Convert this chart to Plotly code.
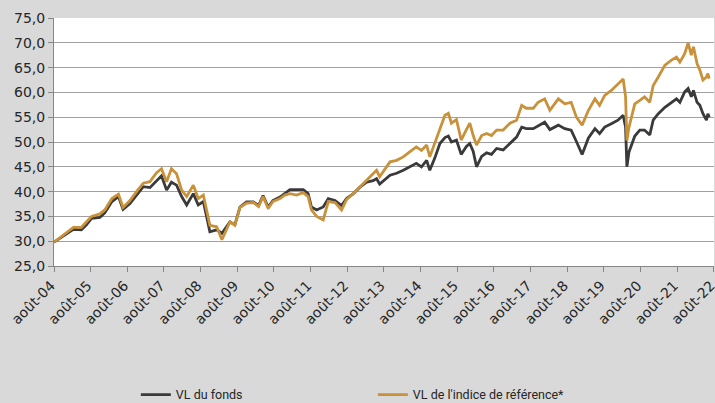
import plotly.graph_objects as go

dates = [
    "2004-08-01", "2004-11-01", "2005-02-10", "2005-05-01", "2005-06-20", "2005-08-10",
    "2005-11-01", "2005-12-20", "2006-03-01", "2006-05-05", "2006-06-20", "2006-08-28",
    "2006-11-01", "2007-01-08", "2007-03-15", "2007-05-20", "2007-07-08", "2007-08-28",
    "2007-10-15", "2007-12-05", "2008-01-25", "2008-03-15", "2008-05-20", "2008-07-08",
    "2008-08-28", "2008-11-01", "2009-01-08", "2009-03-01", "2009-05-20", "2009-07-08",
    "2009-08-28", "2009-11-01", "2010-01-08", "2010-03-01", "2010-04-15", "2010-06-05",
    "2010-07-22", "2010-10-01", "2010-11-18", "2011-01-08", "2011-03-15", "2011-05-20",
    "2011-07-08", "2011-08-10", "2011-10-01", "2011-12-05", "2012-01-25", "2012-04-01",
    "2012-06-05", "2012-07-25", "2012-10-01", "2012-12-05", "2013-02-10", "2013-04-15",
    "2013-05-20", "2013-06-20", "2013-10-01", "2013-12-05", "2014-02-10", "2014-04-15",
    "2014-06-20", "2014-08-10", "2014-10-01", "2014-11-01", "2014-12-20", "2015-02-10",
    "2015-04-01", "2015-05-05", "2015-06-05", "2015-07-25", "2015-09-10", "2015-11-01",
    "2015-12-05", "2016-01-08", "2016-02-10", "2016-04-01", "2016-05-20", "2016-07-08",
    "2016-08-28", "2016-11-01", "2017-01-08", "2017-03-15", "2017-05-05", "2017-06-20",
    "2017-08-28", "2017-10-15", "2017-12-20", "2018-02-10", "2018-05-05", "2018-07-08",
    "2018-09-10", "2018-11-01", "2018-12-28", "2019-03-01", "2019-05-05", "2019-06-20",
    "2019-08-10", "2019-10-15", "2019-12-20", "2020-02-10", "2020-03-05", "2020-03-18",
    "2020-04-08", "2020-06-05", "2020-07-25", "2020-09-10", "2020-11-01", "2020-12-05",
    "2021-01-25", "2021-04-01", "2021-06-05", "2021-07-25", "2021-08-28", "2021-10-15",
    "2021-11-18", "2021-12-20", "2022-01-10", "2022-02-15", "2022-03-15", "2022-04-15",
    "2022-05-20", "2022-06-03", "2022-06-17",
]

vl_fonds = [
    29.8, 31.0, 32.4, 32.3, 33.3, 34.6,
    34.8, 35.7, 38.0, 39.0, 36.4, 37.6,
    39.3, 41.0, 40.8, 42.3, 43.2, 40.3,
    41.9, 41.3, 39.0, 37.3, 39.6, 37.3,
    38.0, 31.9, 32.3, 31.6, 33.9, 33.3,
    36.9, 37.9, 37.9, 37.2, 39.2, 36.9,
    38.2, 38.9, 39.6, 40.4, 40.4, 40.4,
    39.6, 36.9, 36.3, 36.9, 38.6, 38.2,
    37.2, 38.6, 39.6, 40.9, 41.9, 42.2,
    42.6, 41.5, 43.3, 43.7, 44.3, 45.0,
    45.7, 45.0, 46.3, 44.3, 46.7, 49.7,
    50.9, 51.2, 50.0, 50.4, 47.5, 49.1,
    49.7, 48.1, 45.0, 47.1, 47.8, 47.5,
    48.7, 48.4, 49.7, 51.0, 53.0, 52.7,
    52.7, 53.3, 54.0, 52.5, 53.4, 52.7,
    52.4, 50.1, 47.5, 50.8, 52.7, 51.7,
    53.0, 53.7, 54.4, 55.4, 53.0, 45.0,
    48.0, 51.2, 52.4, 52.4, 51.4, 54.4,
    55.7, 57.0, 58.0, 58.7, 58.0, 60.1,
    60.8, 59.1, 60.4, 58.0, 57.4, 55.7,
    54.4, 55.7, 55.0,
]

vl_indice = [
    29.8, 31.2, 32.8, 32.8, 33.8, 35.0,
    35.5, 36.3, 38.6, 39.5, 36.8, 38.2,
    40.0, 41.7, 42.0, 43.8, 44.6, 42.0,
    44.6, 43.6, 40.3, 39.0, 41.3, 38.6,
    39.3, 33.2, 32.9, 30.3, 33.9, 33.2,
    36.8, 37.7, 37.8, 37.0, 39.0, 36.6,
    38.0, 38.6, 39.3, 39.6, 39.3, 39.8,
    39.0, 36.3, 35.0, 34.3, 38.0, 37.8,
    36.3, 38.4, 39.6, 41.0, 42.3, 43.6,
    44.3, 43.0, 46.0, 46.3, 47.0, 48.0,
    49.0, 48.3, 49.4, 47.0, 49.7, 53.0,
    55.4, 55.8, 53.8, 54.5, 50.4, 52.5,
    53.8, 51.3, 49.4, 51.3, 51.7, 51.3,
    52.4, 52.4, 53.8, 54.4, 57.4, 56.8,
    56.8, 58.0, 58.7, 56.4, 58.7, 57.7,
    58.0, 55.0, 53.4, 56.4, 58.7, 57.4,
    59.4, 60.4, 61.8, 62.7, 59.1, 50.3,
    53.0, 57.7, 58.4, 59.1, 58.0, 61.4,
    63.1, 65.5, 66.5, 67.1, 66.1, 67.8,
    70.0, 67.5, 69.2, 65.8, 64.5, 62.5,
    63.1, 63.8, 62.8,
]

tick_dates = ["%d-08-01" % y for y in range(2004, 2023)]
tick_labels = ["août-%02d" % (y % 100) for y in range(2004, 2023)]
y_ticks = [25, 30, 35, 40, 45, 50, 55, 60, 65, 70, 75]

fig = go.Figure()
fig.add_trace(go.Scatter(
    x=dates, y=vl_fonds, mode="lines", name="VL du fonds",
    line=dict(color="#3a3a3c", width=2.8),
))
fig.add_trace(go.Scatter(
    x=dates, y=vl_indice, mode="lines", name="VL de l'indice de référence*",
    line=dict(color="#c8913a", width=2.8),
))

fig.update_layout(
    width=715, height=403,
    paper_bgcolor="#d9d9d9", plot_bgcolor="#ffffff",
    margin=dict(l=54, r=1, t=18, b=137),
    separators=", ",
    font=dict(family="DejaVu Sans", size=14, color="#262626"),
    showlegend=True,
    legend=dict(orientation="h", x=0.124, xanchor="left",
                yref="container", y=0.02, yanchor="middle",
                entrywidth=192, entrywidthmode="pixels",
                bgcolor="rgba(0,0,0,0)",
                font=dict(family="Roboto", size=12.5, color="#262626")),
    xaxis=dict(
        type="date", range=["2004-08-01", "2022-08-03"],
        tickvals=tick_dates, ticktext=tick_labels, tickangle=-45,
        ticklabeloverflow="allow", ticklabelshift=-3,
        ticks="outside", ticklen=5, tickcolor="#868686",
        showgrid=False, showline=True, linecolor="#868686", linewidth=1,
        zeroline=False, automargin=False,
        tickfont=dict(family="DejaVu Sans", size=14, color="#262626"),
    ),
    yaxis=dict(
        range=[25, 75], tickvals=y_ticks, tickformat=".1f",
        ticks="outside", ticklen=5, tickcolor="#868686",
        showgrid=True, gridcolor="#a0a0a0", gridwidth=1.2,
        showline=True, linecolor="#868686", linewidth=1,
        zeroline=False, automargin=False,
        tickfont=dict(family="DejaVu Sans", size=14, color="#262626"),
    ),
)

fig.write_html("out.html", config={"displayModeBar": False},
               post_script="document.body.style.margin='0';")
